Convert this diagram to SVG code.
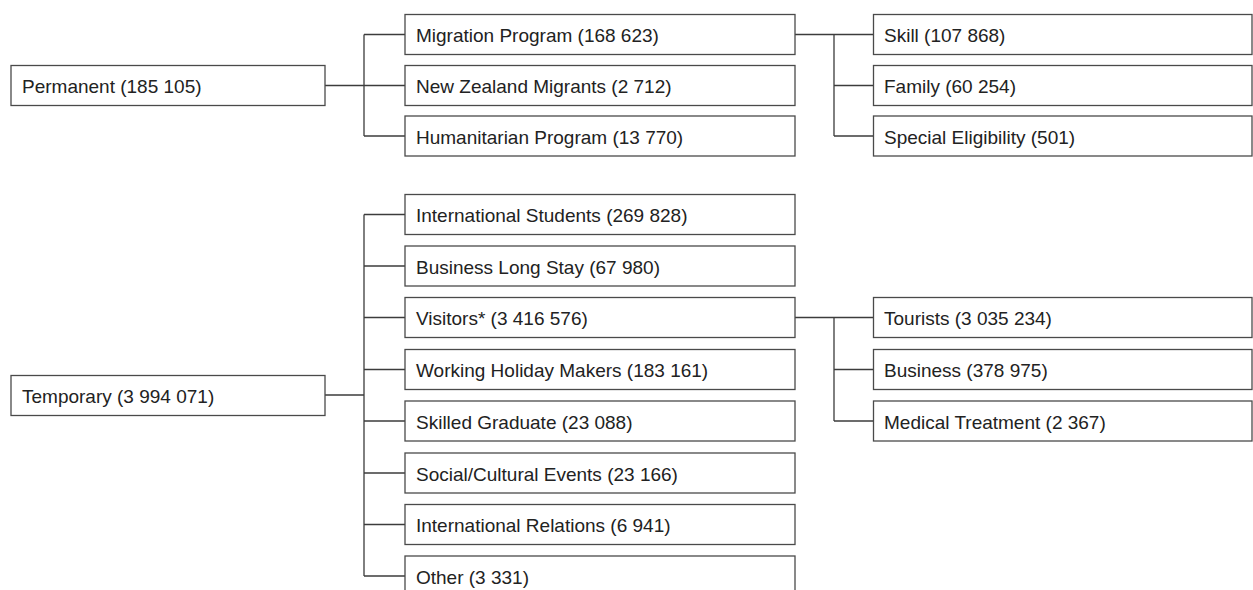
<svg xmlns="http://www.w3.org/2000/svg" width="1253" height="590" viewBox="0 0 1253 590">
  <style>
    .box { fill: #ffffff; stroke: #4a4a4a; stroke-width: 1.3; }
    .lbl { font-family: "Liberation Sans", Arial, sans-serif; font-size: 19px; fill: #222222; }
    .wire { fill: none; stroke: #3c3c3c; stroke-width: 1.3; }
  </style>
  <rect width="1253" height="590" fill="#ffffff"/>

  <!-- connectors -->
  <g id="connectors" class="wire">
    <!-- Permanent branch -->
    <path d="M325 85.5 H405 M364 34.5 V136 M364 34.5 H405 M364 136 H405"/>
    <!-- Migration Program branch -->
    <path d="M795 34.5 H873 M834 34.5 V136 M834 85.5 H873 M834 136 H873"/>
    <!-- Temporary branch -->
    <path d="M325 395 H364 M364 214.5 V576 M364 214.5 H405 M364 266 H405 M364 317.5 H405 M364 369.5 H405 M364 421 H405 M364 473 H405 M364 524.5 H405 M364 576 H405"/>
    <!-- Visitors branch -->
    <path d="M795 317.5 H873 M834 317.5 V421 M834 369.5 H873 M834 421 H873"/>
  </g>

  <!-- top level -->
  <g id="permanent"><rect class="box" x="11" y="65.5" width="314" height="40"/><text class="lbl" x="22" y="93">Permanent (185 105)</text></g>
  <g id="temporary"><rect class="box" x="11" y="375.5" width="314" height="40"/><text class="lbl" x="22" y="402.5">Temporary (3 994 071)</text></g>

  <!-- permanent streams -->
  <g id="migration-program"><rect class="box" x="405" y="14.5" width="390" height="40"/><text class="lbl" x="416" y="42">Migration Program (168 623)</text></g>
  <g id="nz-migrants"><rect class="box" x="405" y="65.5" width="390" height="40"/><text class="lbl" x="416" y="93">New Zealand Migrants (2 712)</text></g>
  <g id="humanitarian"><rect class="box" x="405" y="116" width="390" height="40"/><text class="lbl" x="416" y="143.5">Humanitarian Program (13 770)</text></g>

  <g id="skill"><rect class="box" x="873.5" y="14.5" width="378.5" height="40"/><text class="lbl" x="884" y="42">Skill (107 868)</text></g>
  <g id="family"><rect class="box" x="873.5" y="65.5" width="378.5" height="40"/><text class="lbl" x="884" y="93">Family (60 254)</text></g>
  <g id="special-eligibility"><rect class="box" x="873.5" y="116" width="378.5" height="40"/><text class="lbl" x="884" y="143.5">Special Eligibility (501)</text></g>

  <!-- temporary streams -->
  <g id="intl-students"><rect class="box" x="405" y="194.5" width="390" height="40"/><text class="lbl" x="416" y="222">International Students (269 828)</text></g>
  <g id="business-long-stay"><rect class="box" x="405" y="246" width="390" height="40"/><text class="lbl" x="416" y="273.5">Business Long Stay (67 980)</text></g>
  <g id="visitors"><rect class="box" x="405" y="297.5" width="390" height="40"/><text class="lbl" x="416" y="325">Visitors* (3 416 576)</text></g>
  <g id="working-holiday"><rect class="box" x="405" y="349.5" width="390" height="40"/><text class="lbl" x="416" y="377">Working Holiday Makers (183 161)</text></g>
  <g id="skilled-graduate"><rect class="box" x="405" y="401" width="390" height="40"/><text class="lbl" x="416" y="428.5">Skilled Graduate (23 088)</text></g>
  <g id="social-cultural"><rect class="box" x="405" y="453" width="390" height="40"/><text class="lbl" x="416" y="480.5">Social/Cultural Events (23 166)</text></g>
  <g id="intl-relations"><rect class="box" x="405" y="504.5" width="390" height="40"/><text class="lbl" x="416" y="532">International Relations (6 941)</text></g>
  <g id="other"><rect class="box" x="405" y="556" width="390" height="40"/><text class="lbl" x="416" y="583.5">Other (3 331)</text></g>

  <!-- visitor types -->
  <g id="tourists"><rect class="box" x="873.5" y="297.5" width="378.5" height="40"/><text class="lbl" x="884" y="325">Tourists (3 035 234)</text></g>
  <g id="business"><rect class="box" x="873.5" y="349.5" width="378.5" height="40"/><text class="lbl" x="884" y="377">Business (378 975)</text></g>
  <g id="medical-treatment"><rect class="box" x="873.5" y="401" width="378.5" height="40"/><text class="lbl" x="884" y="428.5">Medical Treatment (2 367)</text></g>
</svg>
